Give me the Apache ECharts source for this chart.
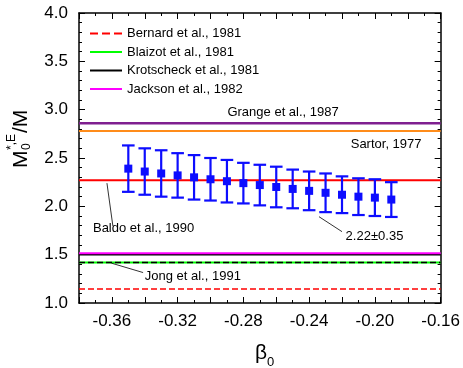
<!DOCTYPE html>
<html>
<head>
<meta charset="utf-8">
<script src="https://cdn.jsdelivr.net/npm/echarts@6/dist/echarts.min.js"></script>
<style>html,body{margin:0;padding:0;background:#fff;}#c{width:463px;height:368px;}</style>
</head>
<body>
<div id="c"></div>
<script>
// ---- data ----
const xMin = -0.38, xMax = -0.16;
const yMin = 1.0, yMax = 4.0;
const beta0 = [-0.35, -0.34, -0.33, -0.32, -0.31, -0.30, -0.29, -0.28, -0.27, -0.26, -0.25, -0.24, -0.23, -0.22, -0.21, -0.20, -0.19];
const mRatio = [2.39, 2.36, 2.34, 2.32, 2.30, 2.28, 2.26, 2.24, 2.22, 2.20, 2.18, 2.16, 2.14, 2.12, 2.10, 2.09, 2.07];
const mErr = [0.24, 0.24, 0.24, 0.23, 0.23, 0.22, 0.22, 0.21, 0.21, 0.21, 0.20, 0.20, 0.20, 0.19, 0.19, 0.19, 0.18];

const refNames  = ['Bernard et al., 1981', 'Blaizot et al., 1981', 'Jong et al., 1991', 'Krotscheck et al., 1981', 'Jackson et al., 1982', 'Baldo et al., 1990', 'Sartor, 1977', 'Grange et al., 1987'];
const refValues = [1.145, 1.42, 1.42, 1.50, 1.515, 2.27, 2.78, 2.86];
const refColors = ['#ff0000', '#00ff00', '#000000', '#000000', '#ff00ff', '#ff0000', '#ff8c1a', '#7f1f90'];
const refDash   = ['dashed', 'solid', 'dashed', 'solid', 'solid', 'solid', 'solid', 'solid'];
const refWidth  = [1.5, 2, 1.5, 1.5, 2, 2, 2, 2.5];
const legendNames = ['Bernard et al., 1981', 'Blaizot et al., 1981', 'Krotscheck et al., 1981', 'Jackson et al., 1982'];

// annotation texts (data coords: left x, middle y)
const noteTexts = ['Grange et al., 1987', 'Sartor, 1977', 'Baldo et al., 1990', '2.22\u00b10.35', 'Jong et al., 1991'];
const noteX = [-0.2897, -0.2147, -0.3715, -0.2178, -0.3400];
const noteY = [2.972, 2.642, 1.776, 1.687, 1.274];
// arrows: tail -> head
const arrowFrom = [[-0.3594, 1.797], [-0.2200, 1.738], [-0.3410, 1.315]];
const arrowTo   = [[-0.3630, 2.240], [-0.2340, 1.893], [-0.3602, 1.412]];

const FONT = "'Liberation Sans', Arial, sans-serif";
const blue = '#0d0dff';

const chart = echarts.init(document.getElementById('c'), null, {renderer: 'canvas'});

const grid = {left: 79, top: 13, width: 363, height: 290};

function xAxisCfg(pos, labels) {
  return {
    type: 'value', position: pos, min: xMin, max: xMax, interval: 0.02,
    axisLine: {show: true, onZero: false, lineStyle: {color: '#000', width: 1.5}},
    axisTick: {show: true, inside: true, length: 6, lineStyle: {color: '#000', width: 1}},
    minorTick: {show: true, splitNumber: 2, length: 3, lineStyle: {color: '#000', width: 1}},
    splitLine: {show: false},
    axisLabel: {
      show: labels, color: '#000', fontSize: 17, fontFamily: FONT, margin: 10,
      showMinLabel: true, showMaxLabel: true,
      formatter: function (v) { const k = Math.round(v * 100); return (k % 4 === 0) ? v.toFixed(2) : ''; }
    }
  };
}
function yAxisCfg(pos, labels) {
  return {
    type: 'value', position: pos, min: yMin, max: yMax, interval: 0.5,
    axisLine: {show: true, onZero: false, lineStyle: {color: '#000', width: 1.5}},
    axisTick: {show: true, inside: true, length: 6, lineStyle: {color: '#000', width: 1}},
    minorTick: {show: true, splitNumber: 5, length: 3, lineStyle: {color: '#000', width: 1}},
    splitLine: {show: false},
    axisLabel: {show: labels, color: '#000', fontSize: 17, fontFamily: FONT, margin: 11,
      formatter: function (v) { return v.toFixed(1); }}
  };
}

const series = [];
refNames.forEach(function (name, i) {
  series.push({
    name: name, type: 'line', symbol: 'none', silent: true, z: 2 + i * 0.01,
    lineStyle: {color: refColors[i], width: refWidth[i], type: refDash[i], dashOffset: 0},
    itemStyle: {color: refColors[i]},
    data: [[xMin, refValues[i]], [xMax, refValues[i]]]
  });
});

const errData = beta0.map(function (b, i) { return [b, mRatio[i] - mErr[i], mRatio[i] + mErr[i]]; });
series.push({
  name: 'err', type: 'custom', z: 5, silent: true,
  renderItem: function (params, api) {
    const x = api.value(0);
    const lo = api.coord([x, api.value(1)]);
    const hi = api.coord([x, api.value(2)]);
    const w = 6.3;
    const st = {stroke: blue, lineWidth: 2.2};
    return {type: 'group', children: [
      {type: 'line', shape: {x1: lo[0], y1: lo[1], x2: hi[0], y2: hi[1]}, style: st},
      {type: 'line', shape: {x1: lo[0] - w, y1: lo[1], x2: lo[0] + w, y2: lo[1]}, style: st},
      {type: 'line', shape: {x1: hi[0] - w, y1: hi[1], x2: hi[0] + w, y2: hi[1]}, style: st}
    ]};
  },
  encode: {x: 0, y: [1, 2]},
  data: errData,
  markLine: {
    silent: true, animation: false,
    symbol: ['none', 'arrow'], symbolSize: [0, 7],
    label: {show: false},
    lineStyle: {color: '#000', width: 0.8, type: 'solid'},
    data: arrowFrom.map(function (f, i) { return [{coord: f}, {coord: arrowTo[i]}]; })
  }
});
series.push({
  name: 'points', type: 'scatter', z: 6, silent: true,
  symbol: 'rect', symbolSize: 8, itemStyle: {color: blue, opacity: 1},
  data: beta0.map(function (b, i) { return [b, mRatio[i]]; })
});

chart.setOption({
  animation: false,
  backgroundColor: '#fff',
  textStyle: {fontFamily: FONT},
  grid: grid,
  legend: {
    data: legendNames, orient: 'vertical', left: 89, top: 27, padding: 0,
    itemWidth: 32, itemHeight: 12, itemGap: 5.5,
    itemStyle: {opacity: 0},
    textStyle: {color: '#000', fontSize: 13, fontFamily: FONT},
    selectedMode: false
  },
  xAxis: [xAxisCfg('bottom', true), xAxisCfg('top', false)],
  yAxis: [yAxisCfg('left', true), yAxisCfg('right', false)],
  series: series
});

// annotation texts and axis titles
const g = [];
noteTexts.forEach(function (t, i) {
  const p = chart.convertToPixel({gridIndex: 0}, [noteX[i], noteY[i]]);
  g.push({type: 'text', x: p[0], y: p[1], silent: true,
    style: {text: t, fill: '#000', fontSize: 13, fontFamily: FONT, textVerticalAlign: 'middle', textAlign: 'left'}});
});
// x-axis title beta_0
g.push({type: 'text', x: 261, y: 353, style: {text: '\u03b2', fill: '#000', fontSize: 21, fontFamily: FONT, textAlign: 'center', textVerticalAlign: 'middle'}});
g.push({type: 'text', x: 267, y: 362, style: {text: '0', fill: '#000', fontSize: 13, fontFamily: FONT, textAlign: 'left', textVerticalAlign: 'middle'}});
// y-axis title M_0^{*,E}/M (rotated)
g.push({type: 'group', x: 21, y: 168, rotation: Math.PI / 2, children: [
  {type: 'text', x: 0, y: 0, style: {text: 'M', fill: '#000', fontSize: 21, fontFamily: FONT, textAlign: 'left', textVerticalAlign: 'middle'}},
  {type: 'text', x: 18, y: 6, style: {text: '0', fill: '#000', fontSize: 12, fontFamily: FONT, textAlign: 'left', textVerticalAlign: 'middle'}},
  {type: 'text', x: 18, y: -9, style: {text: '*,E', fill: '#000', fontSize: 12, fontFamily: FONT, textAlign: 'left', textVerticalAlign: 'middle'}},
  {type: 'text', x: 35, y: 0, style: {text: '/M', fill: '#000', fontSize: 21, fontFamily: FONT, textAlign: 'left', textVerticalAlign: 'middle'}}
]});
chart.setOption({graphic: g});
</script>
</body>
</html>
